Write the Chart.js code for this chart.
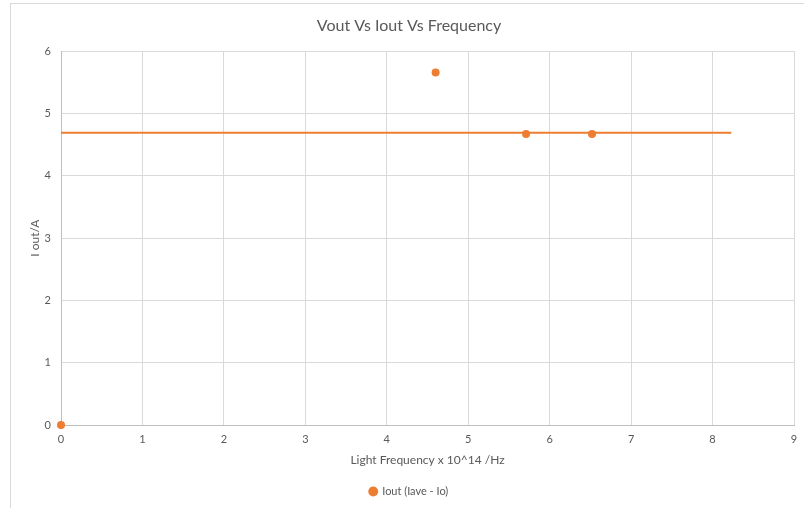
<!DOCTYPE html>
<html>
<head>
<meta charset="utf-8">
<script src="https://cdn.jsdelivr.net/npm/chart.js@4/dist/chart.umd.min.js"></script>
<style>
  html, body { margin: 0; padding: 0; background: #fff; }
  #wrap { position: relative; width: 804px; height: 508px; overflow: hidden; }
  #frame { position: absolute; left: 10px; top: 3px; width: 800px; height: 520px;
           border: 1px solid #d9d9d9; pointer-events: none; }
  canvas { position: absolute; left: 0; top: 0; }
</style>
</head>
<body>
<div id="wrap">
  <canvas id="c" width="804" height="508"></canvas>
  <div id="frame"></div>
</div>
<script>
// Measured output current at each light frequency (x 10^14 Hz)
const frequency = [0, 4.6, 5.71, 6.52];
const ioutValues = [0, 5.66, 4.67, 4.67];

// Horizontal reference level drawn across the plot
const levelX = [0, 8.23];
const levelY = [4.69, 4.69];

const xTicks = [0, 1, 2, 3, 4, 5, 6, 7, 8, 9];
const yTicks = [0, 1, 2, 3, 4, 5, 6];

const orange = '#ED7D31';
const textGrey = '#595959';
const fontFamily = 'Lato, "Open Sans", sans-serif';

const scatterPts = frequency.map((f, i) => ({ x: f, y: ioutValues[i] }));
const levelPts = levelX.map((f, i) => ({ x: f, y: levelY[i] }));

new Chart(document.getElementById('c'), {
  type: 'scatter',
  data: {
    datasets: [
      {
        label: 'Iout (Iave - Io)',
        data: scatterPts,
        backgroundColor: orange,
        borderColor: orange,
        pointRadius: 4,
        pointHoverRadius: 4,
        pointBorderWidth: 0,
        clip: false
      },
      {
        label: 'level',
        data: levelPts,
        showLine: true,
        borderColor: orange,
        backgroundColor: orange,
        borderWidth: 2,
        pointRadius: 0
      }
    ]
  },
  options: {
    responsive: false,
    animation: false,
    devicePixelRatio: 1,
    layout: { padding: { left: 24, right: 10, top: 4, bottom: 1 } },
    plugins: {
      title: {
        display: true,
        text: 'Vout Vs Iout Vs Frequency',
        color: textGrey,
        font: { family: fontFamily, size: 16, weight: 'normal' },
        padding: { top: 12, bottom: 16 }
      },
      legend: {
        position: 'bottom',
        labels: {
          filter: item => item.datasetIndex === 0,
          usePointStyle: true,
          pointStyle: 'circle',
          boxWidth: 7,
          boxHeight: 7,
          padding: 15,
          color: textGrey,
          font: { family: fontFamily, size: 11 }
        }
      },
      tooltip: { enabled: false }
    },
    scales: {
      x: {
        type: 'linear',
        min: 0,
        max: 9,
        afterBuildTicks: s => { s.ticks = xTicks.map(v => ({ value: v })); },
        afterFit: s => { s.height = 46; s.paddingRight = 0; s.paddingLeft = 0; },
        ticks: { color: textGrey, padding: 8, font: { family: fontFamily, size: 11 } },
        grid: { color: '#d9d9d9', lineWidth: 1, drawTicks: false },
        border: { color: '#bfbfbf', width: 1 },
        title: {
          display: true,
          text: 'Light Frequency x 10^14 /Hz',
          color: textGrey,
          font: { family: fontFamily, size: 12 },
          padding: { top: 4, bottom: 4 }
        }
      },
      y: {
        type: 'linear',
        min: 0,
        max: 6,
        afterBuildTicks: s => { s.ticks = yTicks.map(v => ({ value: v })); },
        afterFit: s => { s.width = 37; },
        ticks: { color: textGrey, padding: 10, font: { family: fontFamily, size: 11 } },
        grid: { color: '#d9d9d9', lineWidth: 1, drawTicks: false },
        border: { color: '#bfbfbf', width: 1 },
        title: {
          display: true,
          text: 'I out/A',
          color: textGrey,
          font: { family: fontFamily, size: 12 },
          padding: { top: 4, bottom: 4 }
        }
      }
    }
  }
});
</script>
</body>
</html>
